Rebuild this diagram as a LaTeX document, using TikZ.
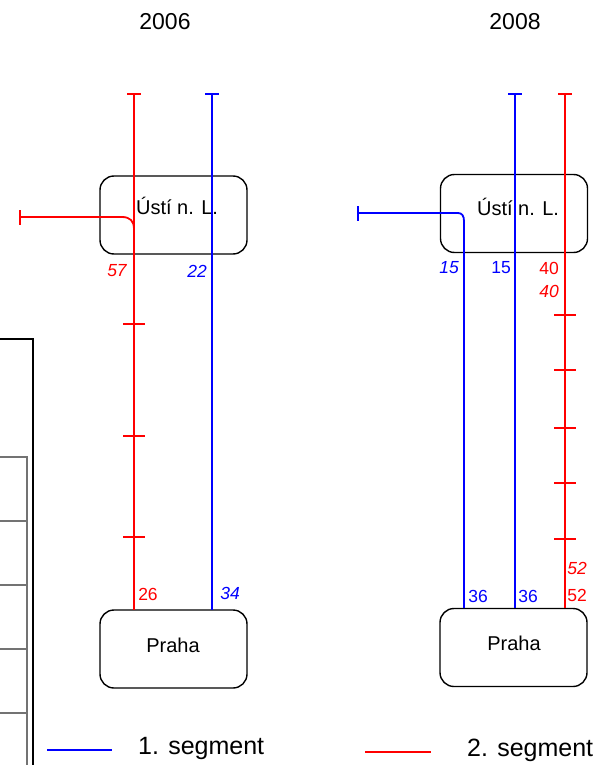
\documentclass[tikz,border=0pt]{standalone}
\usepackage{fontspec}
\setmainfont{Liberation Sans}
\definecolor{segred}{RGB}{255,0,0}
\definecolor{segblue}{RGB}{0,0,255}
\begin{document}
\begin{tikzpicture}[x=1pt,y=-1pt,
  citybox/.style={draw=black,line width=1.4pt,rounded corners=14pt,minimum width=147pt,minimum height=78pt,inner sep=0pt},
  redseg/.style={draw=segred,line width=1.8pt},
  blueseg/.style={draw=segblue,line width=1.8pt},
  lbl/.style={font=\fontsize{17.5}{17.5}\selectfont,inner sep=0pt},
  ilbl/.style={font=\fontsize{17.5}{17.5}\selectfont\itshape,inner sep=0pt},
  title/.style={font=\fontsize{23}{23}\selectfont,inner sep=0pt},
  citytxt/.style={font=\fontsize{20}{20}\selectfont,inner sep=0pt},
  legtxt/.style={font=\fontsize{25}{25}\selectfont,inner sep=0pt},
  tblline/.style={draw=black!55,line width=1.6pt}]
\useasboundingbox (0,0) rectangle (597,765);

% left table fragment
\draw[black,line width=1.2pt] (0,339) -- (33,339) -- (33,765);
\draw[tblline] (0,457) -- (27,457) -- (27,765);
\foreach \yy in {521,585,649,713} \draw[tblline] (0,\yy) -- (27,\yy);

% titles
\node[title] (t1) at (165,22) {2006};
\node[title] (t2) at (515,22) {2008};

% ---------- 2006 ----------
\node[citybox] (u1) at (173.5,215) {};
\node[citytxt] (u1t) at (177,206) {Ústí n. L.};
\node[citybox] (p1) at (173.5,649) {};
\node[citytxt] (p1t) at (173,645) {Praha};

\coordinate (r1top) at (134,94);
\coordinate (r1bot) at (134,610);
\coordinate (b1top) at (212,94);
\coordinate (b1bot) at (212,610);
\coordinate (br1) at (20,217);
\coordinate (br1m) at (134,229);

\draw[redseg] (r1top) -- (r1bot);
\draw[redseg] ([xshift=-7pt]r1top) -- ([xshift=7pt]r1top);
\foreach \yy in {324,436,537} \draw[redseg] (123,\yy) -- (145,\yy);
\draw[redseg] (br1) -- (122,217) .. controls (130,217) and (134,221) .. (br1m);
\draw[redseg] ([yshift=-7.5pt]br1) -- ([yshift=7.5pt]br1);

\draw[blueseg] (b1top) -- (b1bot);
\draw[blueseg] ([xshift=-7pt]b1top) -- ([xshift=7pt]b1top);

\node[ilbl,text=segred] (l57) at (117,271) {57};
\node[ilbl,text=segblue] (l22) at (197,271) {22};
\node[lbl,text=segred] (l26) at (148,594) {26};
\node[ilbl,text=segblue] (l34) at (230,593) {34};

% ---------- 2008 ----------
\node[citybox] (u2) at (514,213.5) {};
\node[citytxt] (u2t) at (518,207) {Ústí n. L.};
\node[citybox] (p2) at (513.5,647.5) {};
\node[citytxt] (p2t) at (514,643) {Praha};

\coordinate (b2top) at (515,94);
\coordinate (b2bot) at (515,608);
\coordinate (r2top) at (565,94);
\coordinate (r2bot) at (565,608);
\coordinate (br2) at (358,213);
\coordinate (br2bot) at (464,608);

\draw[blueseg] (b2top) -- (b2bot);
\draw[blueseg] ([xshift=-7pt]b2top) -- ([xshift=7pt]b2top);
\draw[blueseg] (br2) -- (458,213) .. controls (462,213) and (464,216) .. (464,221) -- (br2bot);
\draw[blueseg] ([yshift=-7.5pt]br2) -- ([yshift=7.5pt]br2);

\draw[redseg] (r2top) -- (r2bot);
\draw[redseg] ([xshift=-7pt]r2top) -- ([xshift=7pt]r2top);
\foreach \yy in {315,370,428,483,539} \draw[redseg] (554,\yy) -- (576,\yy);

\node[ilbl,text=segblue] (l15a) at (449,268) {15};
\node[lbl,text=segblue] (l15b) at (501,268) {15};
\node[lbl,text=segred] (l40a) at (549,268) {40};
\node[ilbl,text=segred] (l40b) at (549,291) {40};
\node[ilbl,text=segred] (l52a) at (577,568) {52};
\node[lbl,text=segred] (l52b) at (577,595) {52};
\node[lbl,text=segblue] (l36a) at (478,596) {36};
\node[lbl,text=segblue] (l36b) at (528,596) {36};

% legend
\coordinate (lg1a) at (47,750);
\coordinate (lg1b) at (112,750);
\coordinate (lg2a) at (365,752);
\coordinate (lg2b) at (431,752);
\draw[blueseg] (lg1a) -- (lg1b);
\draw[redseg] (lg2a) -- (lg2b);
\node[legtxt,anchor=west] (lt1) at (138,748) {1. segment};
\node[legtxt,anchor=west] (lt2) at (467,750) {2. segment};
\end{tikzpicture}
\end{document}
